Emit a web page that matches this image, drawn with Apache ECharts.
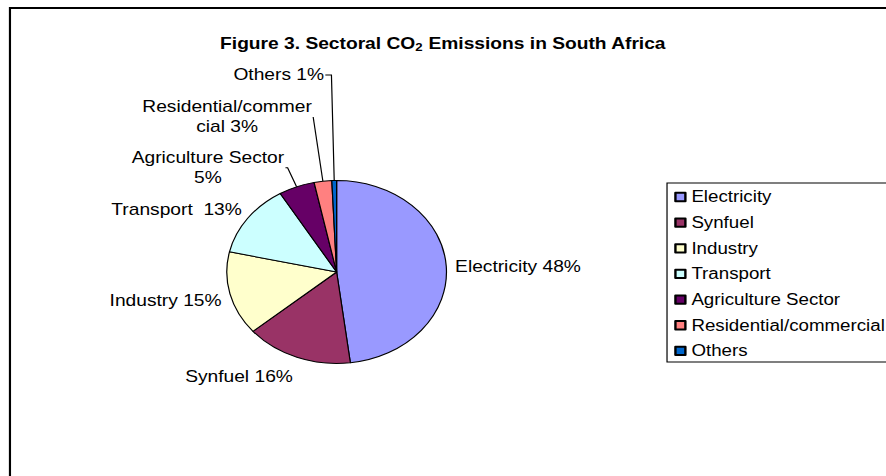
<!DOCTYPE html>
<html>
<head>
<meta charset="utf-8">
<script src="https://cdn.jsdelivr.net/npm/echarts@6/dist/echarts.min.js"></script>
<style>
  html, body { margin: 0; padding: 0; background: #fff; overflow: hidden; width: 886px; height: 476px; }
  #chart { width: 738px; height: 476px; transform: scaleX(1.20054); transform-origin: 0 0; }
</style>
</head>
<body>
<div id="chart"></div>
<script>
// ---- data ----
var categories = ['Electricity', 'Synfuel', 'Industry', 'Transport', 'Agriculture Sector', 'Residential/commercial', 'Others'];
var shares = [48.1, 15.8, 14.8, 12.9, 5.3, 2.6, 0.7];
var labelTexts = ['Electricity ', 'Synfuel ', 'Industry ', 'Transport  ', 'Agriculture Sector\n', 'Residential/commer\ncial ', 'Others '];
var colors = ['#9999FF', '#993366', '#FFFFCC', '#CCFFFF', '#660066', '#FF8080', '#0066CC'];

// ---- label placement (style, not data) ----
var lineLen  = [0, 21.1, 26, 15.5, 20.5, 64.7, 105.5];
var lineLen2 = [6.3, -5.3, -19.3, -8.7, 1.8, 0, 5.1];
var showLine = [false, false, false, false, true, true, true];

var FONT = '"Liberation Sans", Arial, Helvetica, sans-serif';

var chart = echarts.init(document.getElementById('chart'), null, { renderer: 'svg' });

var pieData = categories.map(function (c, i) {
  return {
    name: c,
    value: shares[i],
    itemStyle: { color: colors[i] },
    labelLine: { show: showLine[i], length: lineLen[i], length2: lineLen2[i] }
  };
});

chart.setOption({
  animation: false,
  backgroundColor: '#fff',
  title: {
    text: 'Figure 3. Sectoral CO{sub|2} Emissions in South Africa',
    left: 'center',
    top: 30,
    textStyle: {
      fontFamily: FONT, fontSize: 16, fontWeight: 'bold', color: '#000',
      rich: {
        sub: { fontFamily: FONT, fontSize: 11, fontWeight: 'bold', color: '#000', padding: [7, 0, 0, 0] }
      }
    }
  },
  graphic: [{
    type: 'rect',
    shape: { x: 8.3, y: 8, width: 900, height: 600 },
    style: { fill: 'none', stroke: '#000', lineWidth: 1.8 },
    silent: true
  }],
  legend: {
    orient: 'vertical',
    left: 555.6,
    top: 183,
    padding: [6, 40, 3, 6],
    itemWidth: 8.3,
    itemHeight: 8.3,
    itemGap: 9.65,
    icon: 'rect',
    borderColor: '#000',
    borderWidth: 1,
    selectedMode: false,
    textStyle: { fontFamily: FONT, fontSize: 15.6, color: '#000' },
    data: categories
  },
  series: [{
    type: 'pie',
    center: [280.4, 272],
    radius: 91.5,
    startAngle: 90,
    clockwise: true,
    avoidLabelOverlap: false,
    emphasis: { disabled: true },
    itemStyle: { borderColor: '#000', borderWidth: 1 },
    label: {
      show: true,
      position: 'outside',
      distanceToLabelLine: 1,
      color: '#000',
      fontFamily: FONT,
      fontSize: 16,
      formatter: function (p) {
        var txt = labelTexts[p.dataIndex] + Math.round(p.percent) + '%';
        return txt.split('\n').map(function (l) { return '{c|' + l + '}'; }).join('\n');
      },
      rich: {
        c: { fontFamily: FONT, fontSize: 16, color: '#000', align: 'center', lineHeight: 20 }
      }
    },
    labelLine: { lineStyle: { color: '#000', width: 1 } },
    data: pieData
  }]
});
</script>
</body>
</html>
